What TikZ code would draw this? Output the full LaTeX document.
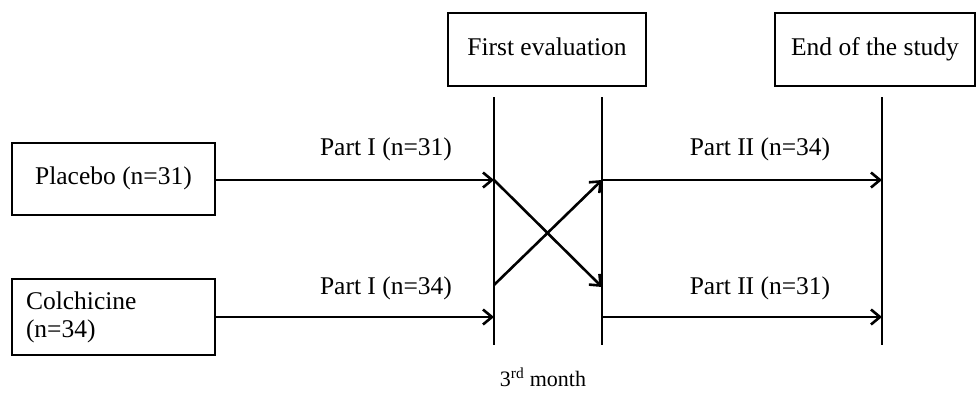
\documentclass[tikz,border=0pt]{standalone}
\usepackage{fontspec}
\setmainfont{Liberation Serif}
\usetikzlibrary{arrows.meta}
\begin{document}
\begin{tikzpicture}[x=1pt,y=-1pt,
  txt/.style={font=\fontsize{25.5}{28}\selectfont},
  box/.style={draw, line width=2.8pt, inner sep=0pt, txt},
  lab/.style={txt, inner sep=0pt},
  ln/.style={line width=2.6pt},
  arr/.style={ln, -{Straight Barb[length=9pt,width=15pt,line width=2.6pt]}}]
\useasboundingbox (0,0) rectangle (977,394);
% boxes
\node[box, minimum width=203pt, minimum height=72pt, text height=17pt, text depth=6pt] (plac) at (113.5,179) {Placebo (n=31)};
\node[box, minimum width=203pt, minimum height=76pt, text width=175pt, inner xsep=14pt, align=left] (colc) at (113.5,317) {Colchicine\\(n=34)};
\node[box, minimum width=198pt, minimum height=73pt, text height=17pt, text depth=6pt] (first) at (547,49.5) {First evaluation};
\node[box, minimum width=200pt, minimum height=73pt, text height=17pt, text depth=6pt] (end) at (875,49.5) {End of the study};
% vertical lines
\coordinate (v1t) at (494,97); \coordinate (v1b) at (494,345);
\coordinate (v2t) at (602,97); \coordinate (v2b) at (602,345);
\coordinate (v3t) at (882,97); \coordinate (v3b) at (882,345);
\draw[ln] (v1t) -- (v1b);
\draw[ln] (v2t) -- (v2b);
\draw[ln] (v3t) -- (v3b);
% arrow points
\coordinate (a1) at (494,180);
\coordinate (a2) at (494,317);
\coordinate (b1) at (602,180);
\coordinate (b2) at (602,317);
\coordinate (c1) at (882,180);
\coordinate (c2) at (882,317);
\coordinate (x1) at (602,287);
\coordinate (x2) at (494,285);
\draw[arr] (plac.east |- a1) -- (a1);
\draw[arr] (colc.east |- a2) -- (a2);
\draw[arr] (b1) -- (c1);
\draw[arr] (b2) -- (c2);
\draw[arr] (a1) -- (x1);
\draw[arr] (x2) -- (b1);
% labels
\node[lab] (l1) at (386,149) {Part I (n=31)};
\node[lab] (l2) at (386,288) {Part I (n=34)};
\node[lab] (l3) at (760,149) {Part II (n=34)};
\node[lab] (l4) at (760,288) {Part II (n=31)};
\node[font=\fontsize{22}{26}\selectfont, inner sep=0pt] (m) at (543,377) {3\textsuperscript{rd} month};
\end{tikzpicture}
\end{document}
